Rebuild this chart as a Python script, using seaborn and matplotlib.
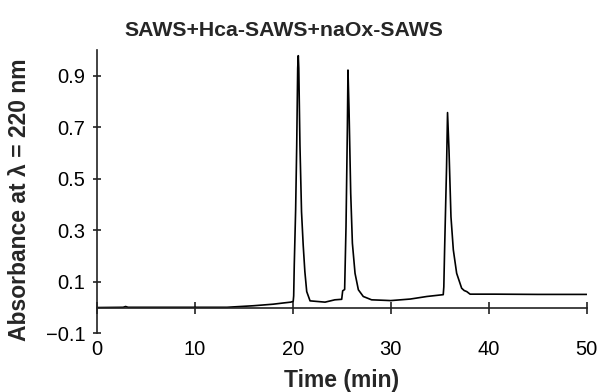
import matplotlib
matplotlib.use("Agg")
import matplotlib.pyplot as plt
import seaborn as sns
import pandas as pd

# Chromatogram trace (time in min, absorbance at 220 nm)
time_min = [0.0, 2.7, 2.95, 3.2, 13.3, 16.0, 18.0, 19.1, 19.8, 20.05, 20.1, 20.16,
            20.3, 20.41, 20.51, 20.57, 20.62, 20.74, 20.9, 21.07, 21.24, 21.43,
            21.77, 23.3, 24.3, 25.0, 25.1, 25.3, 25.44, 25.58, 25.64, 25.75,
            25.92, 26.09, 26.36, 26.7, 27.2, 28.05, 29.4, 30.0, 32.0, 33.7,
            35.36, 35.42, 35.5, 35.7, 35.8, 35.95, 36.15, 36.39, 36.73, 37.24,
            37.5, 37.76, 38.1, 40.6, 45.0, 50.0]
absorbance = [0.0, 0.001, 0.004, 0.001, 0.001, 0.007, 0.013, 0.018, 0.021, 0.024,
              0.045, 0.166, 0.38, 0.63, 0.93, 0.978, 0.93, 0.63, 0.372, 0.243,
              0.14, 0.062, 0.026, 0.021, 0.03, 0.032, 0.065, 0.07, 0.314, 0.70,
              0.922, 0.765, 0.443, 0.25, 0.133, 0.069, 0.043, 0.03, 0.028, 0.027,
              0.033, 0.043, 0.05, 0.08, 0.224, 0.546, 0.757, 0.61, 0.352, 0.224,
              0.133, 0.075, 0.066, 0.062, 0.052, 0.052, 0.051, 0.051]

x_ticks = [0, 10, 20, 30, 40, 50]
y_ticks = [-0.1, 0.1, 0.3, 0.5, 0.7, 0.9]
y_tick_labels = ["\u22120.1", "0.1", "0.3", "0.5", "0.7", "0.9"]

title = "SAWS+Hca-SAWS+naOx-SAWS"
x_label = "Time (min)"
y_label = "Absorbance at \u03bb = 220 nm"

sns.set_style("ticks")
plt.rcParams["font.family"] = ["Liberation Sans", "DejaVu Sans"]

df = pd.DataFrame({"t": time_min, "a": absorbance})

fig = plt.figure(figsize=(6.02, 3.92), dpi=100)
ax = fig.add_axes([96.7 / 602, (392 - 333.3) / 392, 490 / 602, 283.3 / 392])

sns.lineplot(data=df, x="t", y="a", ax=ax, sort=False, estimator=None,
             color="black", linewidth=1.2)

ax.set_xlim(0, 50)
ax.set_ylim(-0.1, 1.0)
ax.spines["top"].set_visible(False)
ax.spines["right"].set_visible(False)
ax.spines["bottom"].set_position(("data", 0))
for s in ("bottom", "left"):
    ax.spines[s].set_color("#222222")
    ax.spines[s].set_linewidth(1.2)

ax.set_xticks(x_ticks)
ax.set_xticklabels([str(v) for v in x_ticks])
ax.set_yticks(y_ticks)
ax.set_yticklabels(y_tick_labels)
ax.tick_params(axis="x", direction="inout", length=8.4, width=1.2, pad=19,
               labelsize=14.5, colors="#222222", labelcolor="black")
ax.tick_params(axis="y", direction="inout", length=6.2, width=1.2, pad=5,
               labelsize=14.5, colors="#222222", labelcolor="black")

ax.set_xlabel(x_label, fontsize=16.5, fontweight="bold")
ax.set_ylabel(y_label, fontsize=16.5, fontweight="bold")
ax.xaxis.set_label_coords(0.5, -0.125)
ax.yaxis.set_label_coords(-0.135, 0.47)

fig.text(284 / 602, 1 - 30 / 392, title, ha="center", va="center",
         fontsize=15.3, fontweight="bold")

fig.savefig("out.png", dpi=100)
